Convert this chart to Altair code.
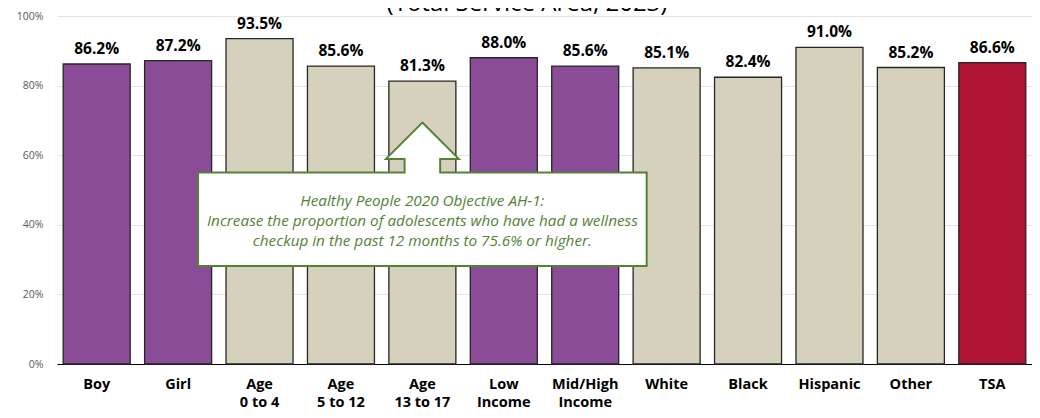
import altair as alt
import pandas as pd

# ---- data ----
categories = ["Boy", "Girl", "Age\n0 to 4", "Age\n5 to 12", "Age\n13 to 17",
              "Low\nIncome", "Mid/High\nIncome", "White", "Black", "Hispanic",
              "Other", "TSA"]
values = [86.2, 87.2, 93.5, 85.6, 81.3, 88.0, 85.6, 85.1, 82.4, 91.0, 85.2, 86.6]
groups = ["Gender", "Gender", "Age", "Age", "Age", "Income", "Income",
          "Race", "Race", "Race", "Race", "Total"]
y_ticks = [0, 20, 40, 60, 80, 100]
title_text = "(Total Service Area, 2023)"
callout_lines = [
    "Healthy People 2020 Objective AH-1:",
    "Increase the proportion of adolescents who have had a wellness",
    "checkup in the past 12 months to 75.6% or higher.",
]

df = pd.DataFrame({"cat": categories, "value": values, "group": groups})

PURPLE = "#8B4C97"
BEIGE = "#D6D1BD"
RED = "#B01232"
GREEN = "#548235"
FONT = "Open Sans"

x_enc = alt.X(
    "cat:N", sort=categories,
    scale=alt.Scale(paddingInner=0.177, paddingOuter=0.076),
    axis=alt.Axis(
        title=None, labelAngle=0, labelExpr="split(datum.label, '\\n')",
        labelFont=FONT, labelFontWeight="bold", labelFontSize=14.5,
        labelColor="#000000", labelLineHeight=18, labelPadding=13,
        labelBaseline="top", ticks=False, domainColor="#000000", domainWidth=1.2,
        grid=False,
    ),
)
y_scale = alt.Scale(domain=[0, 100], nice=False)
y_enc = alt.Y(
    "value:Q", scale=y_scale,
    axis=alt.Axis(
        title=None, values=y_ticks, labelExpr="datum.value + '%'",
        domain=False, ticks=False, grid=True, gridColor="#e3e3e3", gridWidth=1,
        labelFont=FONT, labelFontSize=10.5, labelColor="#595959", labelPadding=14,
    ),
)

base = alt.Chart(df)

bars = base.mark_bar(stroke="#262626", strokeWidth=1.3).encode(
    x=x_enc, y=y_enc,
    color=alt.Color(
        "group:N",
        scale=alt.Scale(domain=["Gender", "Age", "Income", "Race", "Total"],
                        range=[PURPLE, BEIGE, PURPLE, BEIGE, RED]),
        legend=None,
    ),
)

labels = base.transform_calculate(
    lbl="format(datum.value, '.1f') + '%'"
).mark_text(
    font=FONT, fontWeight="bold", fontSize=15.5, color="#000000",
    baseline="alphabetic", dy=-10,
).encode(x=alt.X("cat:N", sort=categories), y=alt.Y("value:Q"), text="lbl:N")

# callout anchored on the "Age 13 to 17" band
callout_df = pd.DataFrame({"cat": [categories[4]], "shape_y": [48.8], "text_y": [45.3]})
callout_path = ("M0,-71.6 L36.4,-35.3 L17.8,-35.3 L17.8,-21.6 L224.3,-21.6 "
                "L224.3,71.7 L-224.3,71.7 L-224.3,-21.6 L-17.8,-21.6 L-17.8,-35.3 "
                "L-36.4,-35.3 Z")
callout = alt.Chart(callout_df).mark_point(
    shape=callout_path, size=4, filled=True, fill="#ffffff", stroke=GREEN,
    strokeWidth=2, opacity=1, fillOpacity=1, strokeOpacity=1, strokeJoin="miter",
).encode(x=alt.X("cat:N", sort=categories), y=alt.Y("shape_y:Q"))

callout_text = alt.Chart(callout_df).mark_text(
    text=callout_lines, font=FONT, fontStyle="italic", fontSize=15.3,
    color=GREEN, lineHeight=19.8, baseline="alphabetic", align="center",
).encode(x=alt.X("cat:N", sort=categories), y=alt.Y("text_y:Q"))

title = alt.Chart(pd.DataFrame({"t": [title_text]})).mark_text(
    font=FONT, fontSize=24, color="#000000", baseline="alphabetic", align="center",
).encode(x=alt.value(470), y=alt.value(-5.5), text="t:N")

chart = alt.layer(bars, labels, callout, callout_text, title).properties(
    width=975, height=348,
    autosize=alt.AutoSizeParams(type="none"),
    padding={"left": 49, "top": 8, "right": 0, "bottom": 46},
).configure_view(stroke=None)

chart.save("out.html", embed_options={"renderer": "svg", "actions": False})
